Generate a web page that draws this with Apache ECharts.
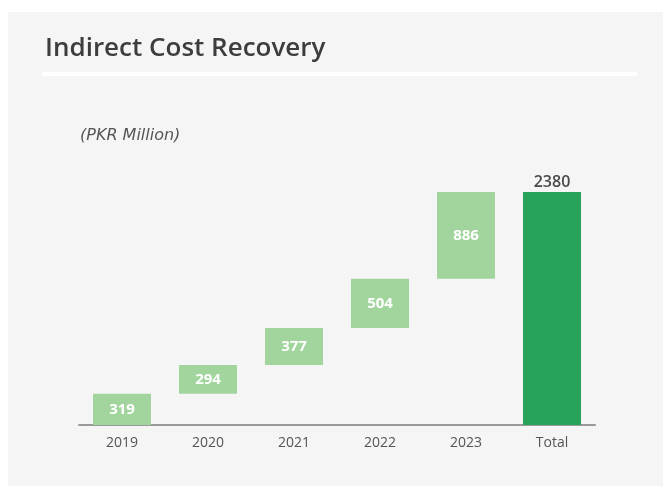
<!DOCTYPE html>
<html>
<head>
<meta charset="utf-8">
<script src="https://cdn.jsdelivr.net/npm/echarts@6/dist/echarts.min.js"></script>
<style>
  html, body { margin: 0; padding: 0; background: #ffffff; }
  #main { width: 663px; height: 488px; }
</style>
</head>
<body>
<div id="main"></div>
<script>
// data
var categories = ['2019', '2020', '2021', '2022', '2023', 'Total'];
var yearly = [319, 294, 377, 504, 886];
var total = 2380;

// invisible base for the floating bars
var base = [];
var running = 0;
yearly.forEach(function (v) { base.push(running); running += v; });
base.push(0);

var visible = yearly.map(function (v) {
  return { value: v };
});
visible.push({
  value: total,
  itemStyle: { color: '#27a35b' },
  label: { position: 'top', color: '#4a4a4a', fontWeight: 600, fontSize: 16, distance: 2 }
});

var chart = echarts.init(document.getElementById('main'));

var option = {
  backgroundColor: '#ffffff',
  animation: false,
  graphic: [
    { type: 'rect', z: -10, shape: { x: 8, y: 12, width: 655, height: 474 }, style: { fill: '#f5f5f5' } },
    { type: 'rect', shape: { x: 42, y: 72, width: 595, height: 4 }, style: { fill: '#ffffff' } },
    { type: 'text', left: 80, top: 128, style: { text: '(PKR Million)', fill: '#555555', font: 'italic 16px "DejaVu Sans", sans-serif' } }
  ],
  title: {
    text: 'Indirect Cost Recovery',
    left: 40,
    top: 31,
    textStyle: { fontFamily: '"Open Sans", sans-serif', fontSize: 26, fontWeight: 600, color: '#3d3d3d' }
  },
  grid: { left: 79, right: 68, top: 192, bottom: 63 },
  xAxis: {
    type: 'category',
    data: categories,
    axisLine: { lineStyle: { color: '#9a9a9a', width: 2 } },
    axisTick: { show: false },
    axisLabel: { color: '#555555', fontSize: 14, fontFamily: '"Open Sans", sans-serif', margin: 11 }
  },
  yAxis: {
    type: 'value',
    min: 0,
    max: total,
    show: false,
    splitLine: { show: false }
  },
  series: [
    {
      type: 'bar',
      stack: 'wf',
      data: base,
      itemStyle: { color: 'transparent' },
      silent: true
    },
    {
      type: 'bar',
      stack: 'wf',
      data: visible,
      barWidth: 58,
      itemStyle: { color: '#a2d59e' },
      label: {
        show: true,
        position: 'inside',
        color: '#ffffff',
        fontWeight: 'bold',
        fontSize: 15,
        fontFamily: '"Open Sans", sans-serif'
      }
    }
  ]
};

chart.setOption(option);
</script>
</body>
</html>
